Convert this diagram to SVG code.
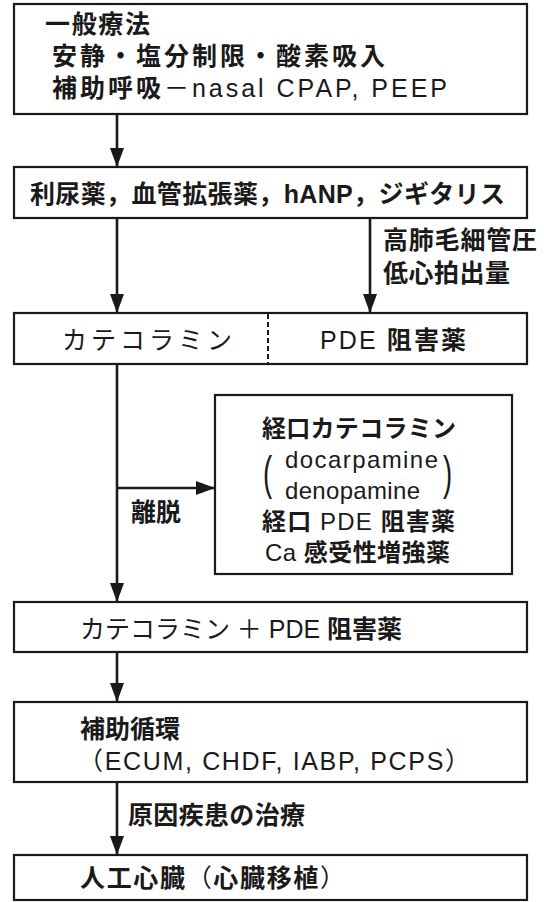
<svg xmlns="http://www.w3.org/2000/svg" width="544" height="902" viewBox="0 0 544 902">
<defs>
<marker id="ah" markerUnits="userSpaceOnUse" markerWidth="20" markerHeight="14" refX="19" refY="7" orient="auto">
<path d="M0,0 L19,7 L0,14 Z" fill="#1a1a1a"/>
</marker>
<style>
.box{fill:#fff;stroke:#1a1a1a;stroke-width:2.2}
.ln{fill:none;stroke:#1a1a1a;stroke-width:2.6}
text{font-family:"Liberation Sans","Noto Sans CJK JP",sans-serif;font-size:25px;fill:#1a1a1a}
.j{font-weight:700}
.s{font-size:24px}
.par{font-family:"Liberation Sans",sans-serif;font-size:46px;font-weight:normal}
</style>
</defs>
<rect width="544" height="902" fill="#fff"/>
<g id="connectors">
<line class="ln" x1="117" y1="114" x2="117" y2="167" marker-end="url(#ah)"/>
<line class="ln" x1="117" y1="218" x2="117" y2="313" marker-end="url(#ah)"/>
<line class="ln" x1="370" y1="218" x2="370" y2="313" marker-end="url(#ah)"/>
<line class="ln" x1="117" y1="364" x2="117" y2="602" marker-end="url(#ah)"/>
<line class="ln" x1="117" y1="488" x2="215" y2="488" marker-end="url(#ah)"/>
<line class="ln" x1="117" y1="652" x2="117" y2="702" marker-end="url(#ah)"/>
<line class="ln" x1="117" y1="782" x2="117" y2="855" marker-end="url(#ah)"/>
<text x="383" y="249" class="j" textLength="154" lengthAdjust="spacing">高肺毛細管圧</text>
<text x="383" y="282" class="j" textLength="127" lengthAdjust="spacing">低心拍出量</text>
<text x="131" y="521" class="j" font-size="23">離脱</text>
<text x="128" y="824" class="j" textLength="177" lengthAdjust="spacing">原因疾患の治療</text>
</g>
<g id="n1">
<rect class="box" x="14" y="4" width="513" height="110"/>
<text x="45" y="33" class="j" textLength="105" lengthAdjust="spacing">一般療法</text>
<text x="52" y="65" class="j" textLength="333" lengthAdjust="spacing">安静・塩分制限・酸素吸入</text>
<text x="52" y="97" textLength="395" lengthAdjust="spacing"><tspan class="j">補助呼吸</tspan>－nasal CPAP, PEEP</text>
</g>
<g id="n2">
<rect class="box" x="14" y="167" width="513" height="51"/>
<text x="30" y="203" class="j" textLength="475" lengthAdjust="spacing">利尿薬，血管拡張薬，hANP，ジギタリス</text>
</g>
<g id="n3">
<rect class="box" x="14" y="313" width="513" height="51"/>
<line x1="268" y1="314" x2="268" y2="363" stroke="#1a1a1a" stroke-width="2" stroke-dasharray="5,3"/>
<text x="62" y="349" textLength="170" lengthAdjust="spacing">カテコラミン</text>
<text x="320" y="349" textLength="146" lengthAdjust="spacing">PDE <tspan class="j">阻害薬</tspan></text>
</g>
<g id="n_oral">
<rect class="box" x="215" y="395" width="297" height="179"/>
<text x="262" y="437" class="j s" textLength="194" lengthAdjust="spacing">経口カテコラミン</text>
<text class="par" transform="translate(263,489) scale(0.6,1)">(</text>
<text x="285" y="468" class="s" textLength="153" lengthAdjust="spacing">docarpamine</text>
<text x="285" y="499" class="s" textLength="135" lengthAdjust="spacing">denopamine</text>
<text class="par" transform="translate(443,489) scale(0.6,1)">)</text>
<text x="262" y="530" class="s" textLength="193" lengthAdjust="spacing"><tspan class="j">経口</tspan> PDE <tspan class="j">阻害薬</tspan></text>
<text x="265" y="561" class="s" textLength="185" lengthAdjust="spacing">Ca <tspan class="j">感受性増強薬</tspan></text>
</g>
<g id="n4">
<rect class="box" x="14" y="602" width="513" height="50"/>
<text x="80" y="638" textLength="322" lengthAdjust="spacing">カテコラミン ＋ PDE <tspan class="j">阻害薬</tspan></text>
</g>
<g id="n5">
<rect class="box" x="14" y="702" width="513" height="80"/>
<text x="80" y="738" class="j" font-size="23">補助循環</text>
<text x="78" y="770" textLength="392" lengthAdjust="spacing">（ECUM, CHDF, IABP, PCPS）</text>
</g>
<g id="n6">
<rect class="box" x="14" y="855" width="513" height="45"/>
<text x="80" y="887" textLength="265" lengthAdjust="spacing"><tspan class="j">人工心臓</tspan>（<tspan class="j">心臓移植</tspan>）</text>
</g>
</svg>
